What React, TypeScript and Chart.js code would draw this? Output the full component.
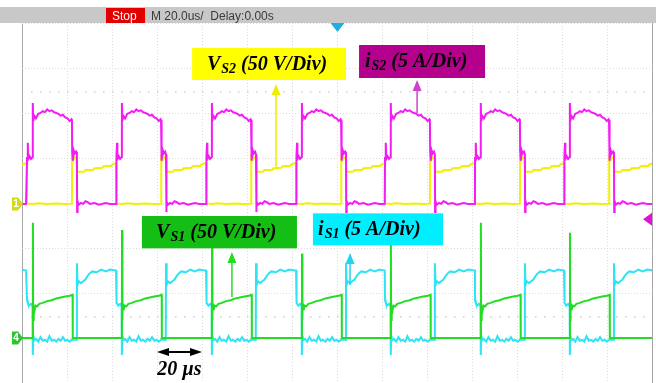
import React, { useEffect, useRef } from "react";
import { Chart, registerables } from "chart.js";

Chart.register(...registerables);

// ---------- screen / timebase ----------
const TIME_PER_DIV_US = 20; // M 20.0us/
const SCREEN_MIN_US = 0;
const SCREEN_MAX_US = 280; // 14 horizontal divisions
const DIV_MIN = -4;
const DIV_MAX = 4;

// start time (µs) of every switching period visible on screen (S2 turn-on)
const periodStartsUs = [-37.6, 2.2, 41.8, 81.8, 121.8, 161.3, 201.3, 240.9];

// ---------- VS2 (ch1, yellow, 50 V/div) one period ----------
const vs2OffsetsUs = [0, 0.05, 2.6, 5, 9, 13, 17, 20.0, 20.1, 20.5, 21.2, 22.1, 22.3, 24, 25.5, 26, 28, 29.5, 30, 32, 33.5, 34, 36, 37.5, 38, 39.4];
const vs2Volts = [45.6, 0.5, 0.0, 0.6, 0.0, 0.5, 0.0, 0.3, 55, 48, 52, 50, 35.6, 35.8, 36.0, 37.6, 37.8, 38.0, 39.6, 39.8, 40.0, 41.8, 42.0, 42.2, 44.0, 45.2];

// ---------- iS2 (ch2, magenta, 5 A/div) one period ----------
const is2OffsetsUs = [0, 0.05, 0.3, 0.45, 0.6, 1.2, 1.8, 2.5, 2.6, 2.8, 3.2, 4, 5, 6, 7, 8, 9, 10, 11, 12, 13, 14, 15, 16, 17, 18, 19, 19.8, 20.0, 20.1, 20.4, 20.7, 21.2, 21.8, 22.2, 22.3, 22.5, 23, 24, 25, 26, 27, 28, 30, 32, 35, 37, 39.4];
const is2Amps = [0, 5.1, 5.3, 6.8, 5.0, 5.3, 5.0, 5.2, 11.2, 9.2, 9.8, 9.5, 10.0, 10.1, 10.3, 10.2, 10.5, 10.3, 10.4, 10.2, 10.1, 10.0, 9.8, 9.9, 9.6, 9.5, 9.2, 9.4, 9.3, 5.8, 4.8, 6.0, 5.6, 5.8, 5.5, -0.9, 0.3, -0.1, 0.1, 0.0, 0.3, 0.2, 0.0, 0.1, -0.1, 0.1, 0.0, 0.0];

// ---------- VS1 (ch4, green, 50 V/div) one period ----------
const vs1OffsetsUs = [0, 2.6, 2.65, 2.75, 2.9, 3.1, 3.4, 3.8, 4.5, 5.5, 7, 9, 11, 13, 15, 17, 19, 20.3, 20.35, 39.4];
const vs1Volts = [0, 0, 125, 20, 29, 36, 31, 36, 35, 38, 39, 41, 42, 44, 45, 46, 47, 48, 0, 0];
const vs1SpikeIndex = 2;
// turn-on overshoot of VS1, one per period
const vs1SpikeVolts = [125, 128, 120, 121, 94, 106, 128, 117];

// ---------- iS1 (ch3, cyan, 5 A/div) one period ----------
const is1OffsetsUs = [0, 0.05, 0.4, 1, 1.8, 2.5, 2.6, 2.8, 3, 4, 5, 6, 7, 8, 9, 10, 11, 12, 13, 14, 15, 16, 17, 18, 19, 20, 22.1, 22.2, 22.5, 23, 24, 25, 26, 27, 28, 29, 31, 33, 35, 37, 39.4];
const is1Amps = [7.5, 4.2, 3.9, 3.6, 3.8, 3.5, -1.9, 0.2, -0.3, -0.1, -0.4, 0.1, -0.3, -0.2, -0.4, 0.2, -0.3, -0.2, -0.4, -0.1, -0.3, 0.1, -0.3, -0.2, -0.4, -0.2, -0.2, 8.3, 5.9, 6.3, 6.1, 6.3, 6.5, 6.9, 7.2, 7.4, 7.3, 7.6, 7.4, 7.6, 7.5];

// ---------- channel settings ----------
const ch1 = { name: "VS2", unitsPerDiv: 50, groundDiv: -0.02, color: "#f0f000" };
const ch2 = { name: "iS2", unitsPerDiv: 5, groundDiv: -0.02, color: "#f41cf4" };
const ch3 = { name: "iS1", unitsPerDiv: 5, groundDiv: -3, color: "#2ee4f4" };
const ch4 = { name: "VS1", unitsPerDiv: 50, groundDiv: -3, color: "#22dd22" };

// ---------- annotations (in screen units: µs, div) ----------
const labelBoxes = [
  { t0: 75.6, t1: 144.0, dTop: 3.444, dBot: 2.733, fill: "#ffff00", textT: 82.2, main: "V", sub: "S2", rest: " (50 V/Div)" },
  { t0: 149.8, t1: 205.8, dTop: 3.511, dBot: 2.778, fill: "#b4008c", textT: 152.4, main: "i", sub: "S2", rest: " (5 A/Div)" },
  { t0: 53.3, t1: 122.2, dTop: -0.289, dBot: -1.007, fill: "#14be14", textT: 59.6, main: "V", sub: "S1", rest: " (50 V/Div)" },
  { t0: 129.3, t1: 187.1, dTop: -0.230, dBot: -0.941, fill: "#00eeff", textT: 131.6, main: "i", sub: "S1", rest: " (5 A/Div)" },
];
const pointerArrows = [
  { t: 112.9, dTop: 2.644, dBot: 0.80, color: "#eeee00" },
  { t: 175.6, dTop: 2.733, dBot: 2.0, color: "#cc44cc" },
  { t: 93.3, dTop: -1.089, dBot: -2.09, color: "#22dd22" },
  { t: 145.8, dTop: -1.111, dBot: -1.82, color: "#22d4f0" },
];
const scaleBar = { t0: 60, t1: 80, d: -3.311, text: "20 µs" };
const triggerPosUs = 140.2;
const triggerLevelDiv = -0.36;

function buildTrace(offsets: number[], values: number[], ch: { unitsPerDiv: number; groundDiv: number }, spikeIdx = -1, spikes: number[] = []) {
  const pts: { x: number; y: number }[] = [];
  periodStartsUs.forEach((t0, p) => {
    offsets.forEach((dt, i) => {
      const v = i === spikeIdx ? spikes[p] : values[i];
      pts.push({ x: t0 + dt, y: ch.groundDiv + v / ch.unitsPerDiv });
    });
  });
  return pts;
}

const LABEL_FONT = "bold italic 20px 'Liberation Serif', 'Times New Roman', serif";
const SUB_FONT = "bold italic 14px 'Liberation Serif', 'Times New Roman', serif";

const scopeDecor = {
  id: "scopeDecor",
  beforeDraw(chart: any) {
    const { ctx, width } = chart;
    ctx.save();
    ctx.fillStyle = "#ffffff";
    ctx.fillRect(0, 0, chart.width, chart.height);
    ctx.fillStyle = "#c8c8c8";
    ctx.fillRect(0, 7, width, 16);
    ctx.fillStyle = "#e00000";
    ctx.fillRect(106, 8, 39, 15);
    ctx.font = "12px 'Liberation Sans', Arial, sans-serif";
    ctx.textBaseline = "alphabetic";
    ctx.fillStyle = "#ffffff";
    ctx.fillText("Stop", 112, 20);
    ctx.fillStyle = "#3a3a3a";
    ctx.fillText("M 20.0us/  Delay:0.00s", 151, 20);
    ctx.restore();
  },
  beforeDatasetsDraw(chart: any) {
    const { ctx, scales } = chart;
    const x = scales.x, y = scales.y;
    ctx.save();
    ctx.fillStyle = "#d2d2d2";
    [2.5, -2.5].forEach((d) => {
      const py = Math.round(y.getPixelForValue(d));
      for (let t = SCREEN_MIN_US + TIME_PER_DIV_US / 5; t < SCREEN_MAX_US; t += TIME_PER_DIV_US / 5) {
        ctx.fillRect(Math.round(x.getPixelForValue(t)), py, 1.5, 1.5);
      }
    });
    ctx.restore();
  },
  afterDatasetsDraw(chart: any) {
    const { ctx, scales } = chart;
    const x = scales.x, y = scales.y;
    ctx.save();
    // pointer arrows
    pointerArrows.forEach((a) => {
      const px = x.getPixelForValue(a.t);
      const top = y.getPixelForValue(a.dTop);
      const bot = y.getPixelForValue(a.dBot);
      ctx.strokeStyle = a.color;
      ctx.lineWidth = 1.5;
      ctx.beginPath();
      ctx.moveTo(px, bot);
      ctx.lineTo(px, top + 8);
      ctx.stroke();
      ctx.fillStyle = a.color;
      ctx.beginPath();
      ctx.moveTo(px, top);
      ctx.lineTo(px - 4.5, top + 11);
      ctx.lineTo(px + 4.5, top + 11);
      ctx.closePath();
      ctx.fill();
    });
    // label boxes
    labelBoxes.forEach((b) => {
      const l = x.getPixelForValue(b.t0), r = x.getPixelForValue(b.t1);
      const t = y.getPixelForValue(b.dTop), btm = y.getPixelForValue(b.dBot);
      ctx.fillStyle = b.fill;
      ctx.fillRect(l, t, r - l, btm - t);
      let tx = x.getPixelForValue(b.textT);
      const base = t + 22;
      ctx.fillStyle = "#000000";
      ctx.textBaseline = "alphabetic";
      ctx.font = LABEL_FONT;
      ctx.fillText(b.main, tx, base);
      tx += ctx.measureText(b.main).width + 1;
      ctx.font = SUB_FONT;
      ctx.fillText(b.sub, tx, base + 3);
      tx += ctx.measureText(b.sub).width;
      ctx.font = LABEL_FONT;
      ctx.fillText(b.rest, tx, base);
    });
    // 20 µs scale bar
    const x0 = x.getPixelForValue(scaleBar.t0), x1 = x.getPixelForValue(scaleBar.t1);
    const sy = y.getPixelForValue(scaleBar.d);
    ctx.strokeStyle = "#000";
    ctx.fillStyle = "#000";
    ctx.lineWidth = 2;
    ctx.beginPath();
    ctx.moveTo(x0 + 8, sy);
    ctx.lineTo(x1 - 8, sy);
    ctx.stroke();
    ctx.beginPath();
    ctx.moveTo(x0, sy);
    ctx.lineTo(x0 + 12, sy - 4);
    ctx.lineTo(x0 + 12, sy + 4);
    ctx.closePath();
    ctx.fill();
    ctx.beginPath();
    ctx.moveTo(x1, sy);
    ctx.lineTo(x1 - 12, sy - 4);
    ctx.lineTo(x1 - 12, sy + 4);
    ctx.closePath();
    ctx.fill();
    ctx.font = LABEL_FONT;
    ctx.textAlign = "center";
    ctx.fillText(scaleBar.text, (x0 + x1) / 2, sy + 23);
    ctx.restore();
  },
  afterDraw(chart: any) {
    const { ctx, scales, chartArea } = chart;
    const x = scales.x, y = scales.y;
    ctx.save();
    // channel ground markers
    const markers = [
      { d: ch1.groundDiv, label: "1", color: "#d2da10" },
      { d: ch4.groundDiv, label: "4", color: "#2ec42e" },
    ];
    markers.forEach((m) => {
      const py = y.getPixelForValue(m.d);
      const right = chartArea.left;
      ctx.fillStyle = m.color;
      ctx.beginPath();
      ctx.moveTo(right - 10, py - 6.5);
      ctx.lineTo(right - 4, py - 6.5);
      ctx.lineTo(right + 1, py);
      ctx.lineTo(right - 4, py + 6.5);
      ctx.lineTo(right - 10, py + 6.5);
      ctx.closePath();
      ctx.fill();
      ctx.fillStyle = "#ffffff";
      ctx.font = "bold 10px 'Liberation Sans', Arial, sans-serif";
      ctx.textAlign = "center";
      ctx.textBaseline = "middle";
      ctx.fillText(m.label, right - 6, py + 0.5);
    });
    // trigger level marker (right)
    const ty = y.getPixelForValue(triggerLevelDiv);
    ctx.fillStyle = "#e010d8";
    ctx.beginPath();
    ctx.moveTo(chartArea.right - 9, ty);
    ctx.lineTo(chartArea.right, ty - 6.5);
    ctx.lineTo(chartArea.right, ty + 6.5);
    ctx.closePath();
    ctx.fill();
    // trigger position marker (top)
    const tx = x.getPixelForValue(triggerPosUs);
    ctx.fillStyle = "#1eaee6";
    ctx.beginPath();
    ctx.moveTo(tx - 7, chartArea.top);
    ctx.lineTo(tx + 7, chartArea.top);
    ctx.lineTo(tx, chartArea.top + 9);
    ctx.closePath();
    ctx.fill();
    ctx.restore();
  },
};

export default function App() {
  const canvasRef = useRef<HTMLCanvasElement | null>(null);

  useEffect(() => {
    if (!canvasRef.current) return;
    const isEdgeX = (v: number) => v === SCREEN_MIN_US || v === SCREEN_MAX_US;
    const chart = new Chart(canvasRef.current, {
      type: "line",
      data: {
        datasets: [
          { label: ch2.name, data: buildTrace(is2OffsetsUs, is2Amps, ch2), borderColor: ch2.color },
          { label: ch1.name, data: buildTrace(vs2OffsetsUs, vs2Volts, ch1), borderColor: ch1.color },
          { label: ch4.name, data: buildTrace(vs1OffsetsUs, vs1Volts, ch4, vs1SpikeIndex, vs1SpikeVolts), borderColor: ch4.color },
          { label: ch3.name, data: buildTrace(is1OffsetsUs, is1Amps, ch3), borderColor: ch3.color },
        ],
      },
      options: {
        animation: false,
        responsive: false,
        events: [],
        layout: { padding: { left: 22, top: 23, right: 4, bottom: 0 } },
        plugins: { legend: { display: false }, tooltip: { enabled: false }, title: { display: false } },
        elements: {
          point: { radius: 0 },
          line: { tension: 0, borderWidth: 2, fill: false },
        },
        scales: {
          x: {
            type: "linear",
            min: SCREEN_MIN_US,
            max: SCREEN_MAX_US,
            ticks: { display: false, stepSize: TIME_PER_DIV_US },
            grid: {
              drawTicks: false,
              lineWidth: 1,
              color: (c: any) => (isEdgeX(c.tick?.value) ? "#a8a8a8" : "#dcdcdc"),
            },
            border: { display: false, dash: (c: any) => (isEdgeX(c.tick?.value) ? [] : [1, 2]) },
          },
          y: {
            type: "linear",
            min: DIV_MIN,
            max: DIV_MAX,
            ticks: { display: false, stepSize: 1 },
            grid: { drawTicks: false, lineWidth: 1, color: "#dcdcdc" },
            border: { display: false, dash: [1, 2] },
          },
        },
      },
      plugins: [scopeDecor],
    } as any);
    return () => chart.destroy();
  }, []);

  return (
    <div style={{ position: "fixed", left: 0, top: 0, width: 656, height: 383, background: "#fff" }}>
      <canvas ref={canvasRef} width={656} height={383} style={{ display: "block" }} />
    </div>
  );
}
